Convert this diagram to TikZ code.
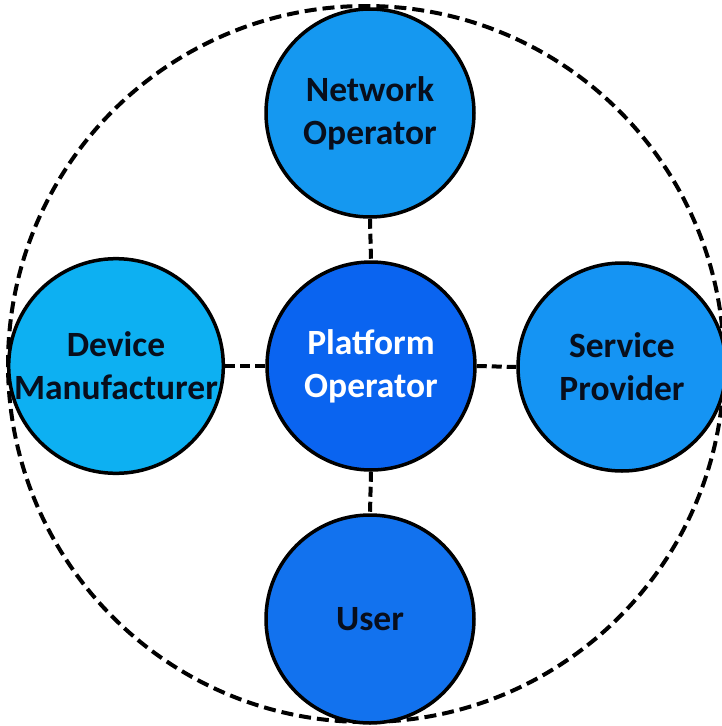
\documentclass[tikz,border=0pt]{standalone}
\usepackage{fontspec}
\setmainfont{Carlito}
\definecolor{devblue}{HTML}{0DB0F2}
\definecolor{netblue}{HTML}{1598F0}
\definecolor{servblue}{HTML}{1594F3}
\definecolor{platblue}{HTML}{0A64F0}
\definecolor{userblue}{HTML}{1272EE}
\definecolor{darktext}{HTML}{080E1C}
\begin{document}
\begin{tikzpicture}[x=1pt,y=-1pt,
  role/.style={circle, draw=black, line width=3.5pt, minimum size=208pt, inner sep=0pt,
    align=center, text=darktext, font=\bfseries\fontsize{35.5}{43}\selectfont},
  conn/.style={draw=black, line width=4pt, dash pattern=on 10pt off 5pt},
  outer/.style={draw=black, line width=4pt, dash pattern=on 12pt off 6pt}]
\useasboundingbox (0,0) rectangle (721,726);
\fill[white] (0,0) rectangle (721,726);
\draw[outer] (366,364) circle[radius=358pt];
\node[role, fill=netblue] (net) at (370,113) {Network\\Operator};
\node[role, fill=platblue, text=white] (plat) at (371,366) {Platform\\Operator};
\node[role, fill=devblue] (dev) at (116,366) {Device\\Manufacturer};
\node[role, fill=servblue] (serv) at (622,367) {Service\\Provider};
\node[role, fill=userblue] (user) at (370,619) {User};
\draw[conn] (net.south) -- (plat.north);
\draw[conn] (plat.south) -- (user.north);
\draw[conn] (dev.east) -- (plat.west);
\draw[conn] (plat.east) -- (serv.west);
\end{tikzpicture}
\end{document}
